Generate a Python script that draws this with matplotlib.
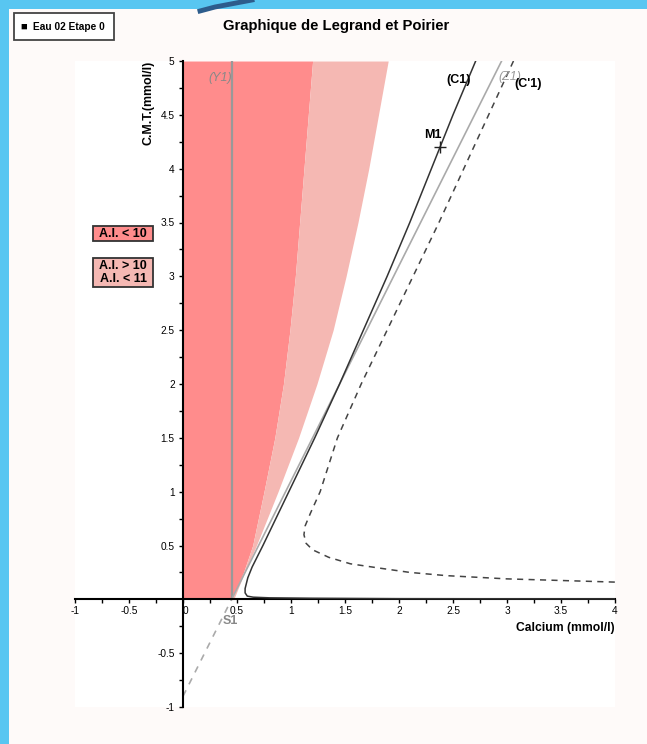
import matplotlib
matplotlib.use("Agg")
import matplotlib.pyplot as plt
import numpy as np
from matplotlib.patches import Rectangle
from matplotlib.lines import Line2D

plt.rcParams['font.family'] = ['Liberation Sans', 'DejaVu Sans']

# zone boundaries (x read at given C.M.T. levels)
zone_y = [0, 0.25, 0.5, 1.0, 1.5, 2.0, 2.5, 3.0, 3.5, 4.0, 4.5, 5.0]
ai10_x = [0.45, 0.56, 0.645, 0.75, 0.85, 0.93, 0.99, 1.04, 1.08, 1.12, 1.16, 1.20]
ai11_x = [0.47, 0.57, 0.68, 0.88, 1.07, 1.24, 1.39, 1.51, 1.62, 1.72, 1.81, 1.90]

# curve (C1)
c1_x = [4.0, 2.0, 1.2, 0.8, 0.65, 0.595, 0.575, 0.575, 0.60, 0.64, 0.74, 0.98, 1.22,
        1.45, 1.67, 1.89, 2.10, 2.30, 2.50, 2.71]
c1_y = [0.004, 0.006, 0.01, 0.014, 0.02, 0.03, 0.06, 0.1, 0.2, 0.3, 0.5, 1.0, 1.5,
        2.0, 2.5, 3.0, 3.5, 4.0, 4.5, 5.0]

# curve (C'1)
cp1_x = [3.06, 2.83, 2.60, 2.37, 2.13, 1.89, 1.65, 1.43, 1.27, 1.18, 1.13, 1.12, 1.14,
         1.20, 1.35, 1.55, 1.82, 2.10, 2.44, 3.0, 3.5, 4.0]
cp1_y = [5.0, 4.5, 4.0, 3.5, 3.0, 2.5, 2.0, 1.5, 1.0, 0.8, 0.68, 0.6, 0.52,
         0.46, 0.39, 0.33, 0.29, 0.25, 0.22, 0.19, 0.175, 0.16]

# straight lines
y1_x = [0.45, 0.45]
y1_y = [0, 5]
z1_x = [0.45, 2.95]
z1_y = [0, 5]
z1ext_x = [0, 0.45]
z1ext_y = [-0.9, 0]

m1 = (2.38, 4.2)

ticks = [-1, -0.5, 0, 0.5, 1, 1.5, 2, 2.5, 3, 3.5, 4, 4.5, 5]

dark_red = '#ff8c8c'
light_red = '#f5b8b3'

fig = plt.figure(figsize=(6.47, 7.44), dpi=100, facecolor='#58c6f1')
fig.patches.append(Rectangle((9 / 647, 0), 1, 1 - 9 / 744, transform=fig.transFigure,
                             facecolor='#fefaf9', edgecolor='none', zorder=-5))
fig.lines.append(Line2D([200 / 647, 215 / 647, 252 / 647], [1 - 11 / 744, 1 - 7 / 744, 1.0],
                        transform=fig.transFigure, color='#2d5c8c', lw=3.5))

ax = fig.add_axes([75 / 647, 37 / 744, 540 / 647, 646 / 744])
ax.set_xlim(-1, 4)
ax.set_ylim(-1, 5)

ax.fill_betweenx(zone_y, 0, ai10_x, color=dark_red, lw=0, zorder=1)
ax.fill_betweenx(zone_y, ai10_x, ai11_x, color=light_red, lw=0, zorder=1)

ax.plot(y1_x, y1_y, color='#999999', lw=1.6, zorder=2)
ax.plot(z1_x, z1_y, color='#aaaaaa', lw=1.2, zorder=2)
ax.plot(z1ext_x, z1ext_y, color='#aaaaaa', lw=1.2, ls=(0, (4, 4)), zorder=2)
ax.plot(c1_x, c1_y, color='#333333', lw=1.1, zorder=3)
ax.plot(cp1_x, cp1_y, color='#444444', lw=1.1, ls=(0, (4, 3.5)), zorder=3)
ax.plot(*m1, marker='+', color='#222222', ms=9, mew=1, zorder=4)

ax.text(0.45, 4.84, '(Y1)', color='#888888', style='italic', fontsize=9, ha='right', va='center')
ax.text(2.55, 4.82, '(C1)', color='black', weight='bold', fontsize=9, ha='center', va='center')
ax.text(3.03, 4.85, '(Z1)', color='#999999', style='italic', fontsize=9, ha='center', va='center')
ax.text(3.2, 4.79, "(C'1)", color='black', weight='bold', fontsize=9, ha='center', va='center')
ax.text(2.31, 4.31, 'M1', color='black', weight='bold', fontsize=9, ha='center', va='center')
ax.text(0.44, -0.2, 'S1', color='#888888', weight='bold', fontsize=9, ha='center', va='center')

ax.text(4.0, -0.27, 'Calcium (mmol/l)', weight='bold', fontsize=8.7, ha='right', va='center')
ax.text(-0.32, 5.0, 'C.M.T.(mmol/l)', weight='bold', fontsize=8.9, rotation=90,
        ha='center', va='top')

# axes through the origin
for s in ['top', 'right']:
    ax.spines[s].set_visible(False)
ax.spines['left'].set_position(('data', 0))
ax.spines['bottom'].set_position(('data', 0))
ax.spines['left'].set_linewidth(1.5)
ax.spines['bottom'].set_linewidth(1.5)
ax.set_facecolor('white')

xt = [t for t in ticks if t <= 4]
ax.set_xticks(xt)
ax.set_xticklabels([('%g' % t) for t in xt])
yt = [t for t in ticks if t != 0]
ax.set_yticks(yt)
ax.set_yticklabels([('%g' % t) for t in yt])
ax.set_xticks(np.arange(-0.75, 4, 0.5), minor=True)
ax.set_yticks(np.arange(-0.75, 5, 0.5), minor=True)
ax.tick_params(which='both', direction='out', length=3, width=1, labelsize=7.3, pad=2)
ax.tick_params(axis='y', pad=3)
for lab in ax.get_xticklabels():
    if lab.get_text() == '0':
        lab.set_ha('left')

# A.I. zone keys
ax.add_patch(Rectangle((-0.833, 3.327), 0.555, 0.14, facecolor=dark_red,
                       edgecolor='#333333', lw=1.3, clip_on=False, zorder=5))
ax.text(-0.555, 3.397, 'A.I. < 10', weight='bold', fontsize=9, ha='center', va='center',
        zorder=6)
ax.add_patch(Rectangle((-0.833, 2.90), 0.555, 0.269, facecolor=light_red,
                       edgecolor='#333333', lw=1.3, clip_on=False, zorder=5))
ax.text(-0.555, 3.035, 'A.I. > 10\nA.I. < 11', weight='bold', fontsize=9, ha='center',
        va='center', linespacing=1.1, zorder=6)

fig.text(336 / 647, 1 - 26 / 744, 'Graphique de Legrand et Poirier', weight='bold',
         fontsize=10.7, ha='center', va='center')

fig.patches.append(Rectangle((14 / 647, 1 - 40 / 744), 100 / 647, 27 / 744,
                             transform=fig.transFigure, facecolor='white',
                             edgecolor='#444444', lw=1.3, zorder=2))
fig.text(20 / 647, 1 - 26.5 / 744, '\u25a0', fontsize=8, ha='left', va='center')
fig.text(33 / 647, 1 - 26.5 / 744, 'Eau 02 Etape 0', weight='bold', fontsize=7.3,
         ha='left', va='center')

fig.savefig('out.png', dpi=100, facecolor=fig.get_facecolor())
